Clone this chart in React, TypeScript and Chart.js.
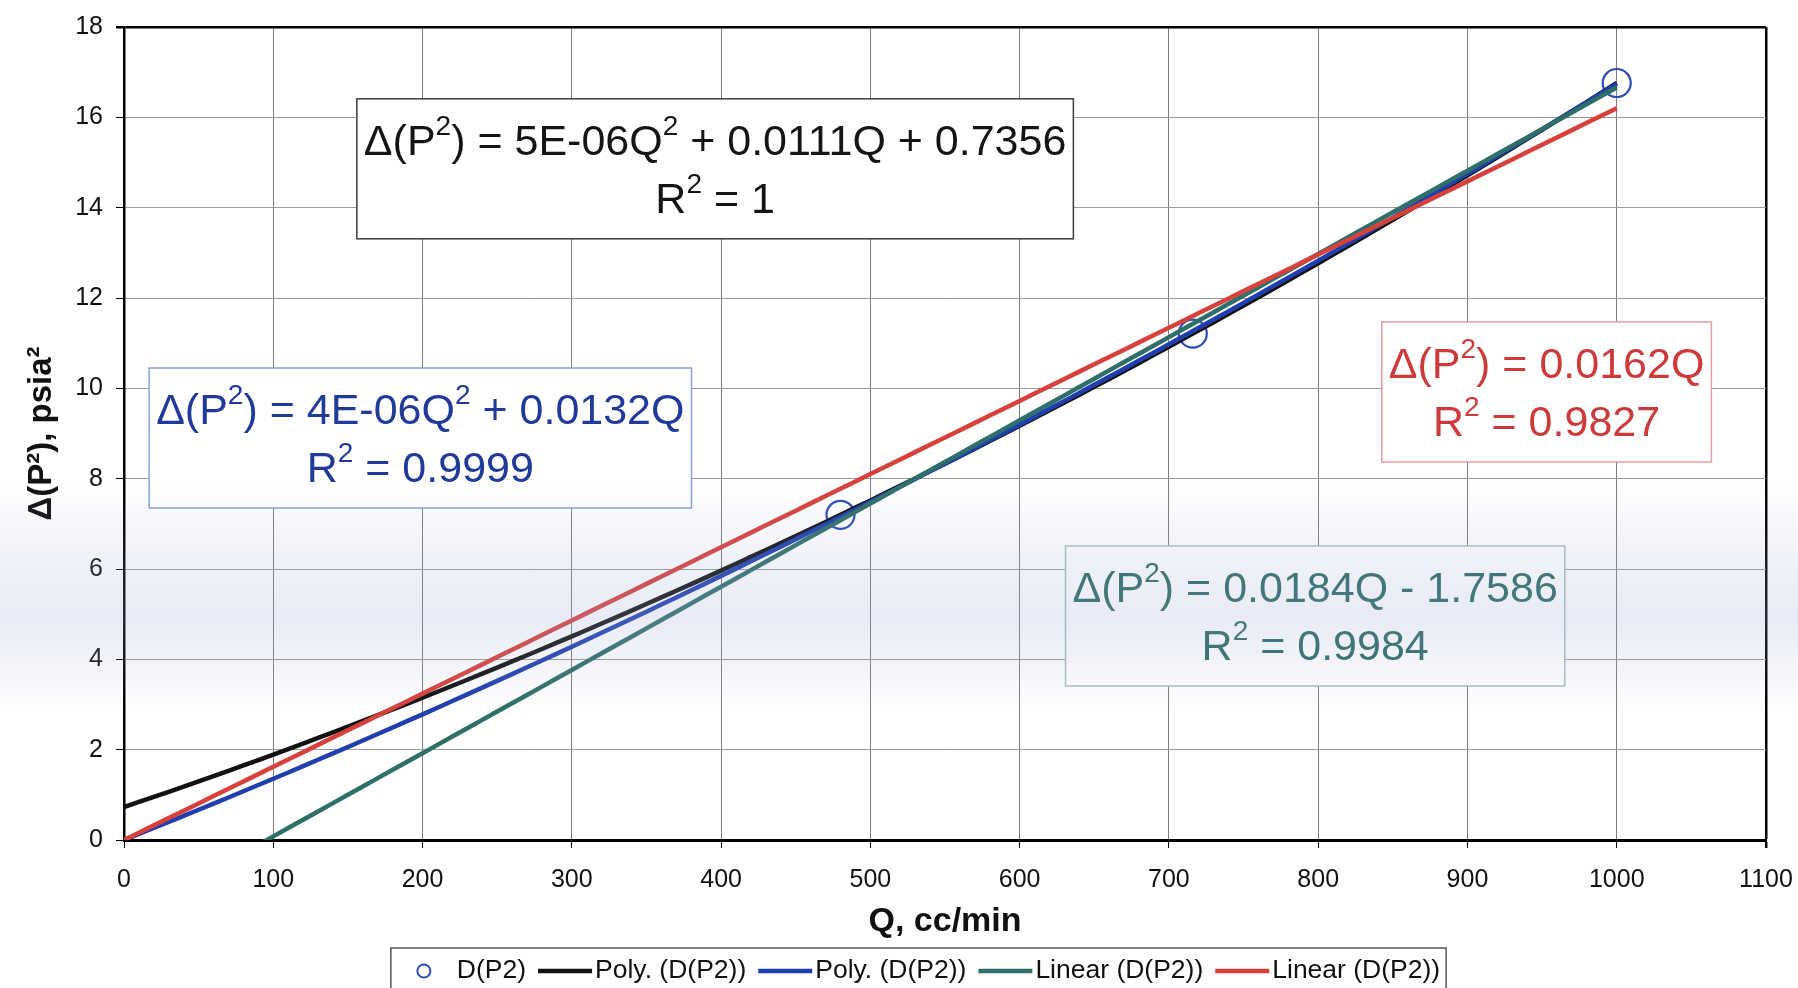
import { useEffect, useRef } from "react";
import { Chart, registerables } from "chart.js";

Chart.register(...registerables);

// Measured points: flow rate Q (cc/min) against Δ(P²) (psia²)
const flowRates = [480, 716, 1000];
const deltaPSquared = [7.2, 11.21, 16.76];
const seriesName = "D(P2)";

// Trendlines fitted to the measured points (powers of Q used in each fit)
const trendLabels = ["Poly. (D(P2))", "Poly. (D(P2))", "Linear (D(P2))", "Linear (D(P2))"];
const trendPowers = [[0, 1, 2], [1, 2], [0, 1], [1]];
const trendEquations = [
  "Δ(P^2) = 5E-06Q^2 + 0.0111Q + 0.7356",
  "Δ(P^2) = 4E-06Q^2 + 0.0132Q",
  "Δ(P^2) = 0.0184Q - 1.7586",
  "Δ(P^2) = 0.0162Q",
];
const trendRSquared = ["R^2 = 1", "R^2 = 0.9999", "R^2 = 0.9984", "R^2 = 0.9827"];

// Axis ranges and tick steps
const xAxisMax = 1100;
const xTickStep = 100;
const yAxisMax = 18;
const yTickStep = 2;

// Styling
const FONT = '"Liberation Sans", Arial, Helvetica, sans-serif';
const pointColor = "#2b4cb6";
const trendColors = ["#121212", "#1f3fae", "#2f6f69", "#d6413b"];
const trendTextColors = ["#151515", "#1f3a98", "#2c6a64", "#cc3a3a"];
const trendBoxBorders = ["#3c3c3c", "#87a2d6", "#a6bfbb", "#e4a0a0"];
// Equation box centres, in axis units
const boxCenterQ = [396, 198.5, 798, 953];
const boxCenterDP = [14.86, 8.9, 4.96, 9.92];

function fitTrend(xs: number[], ys: number[], powers: number[]) {
  const qs = xs.map((x) => x / 1000);
  const n = powers.length;
  const m = powers.map((p) => powers.map((r) => qs.reduce((s, q) => s + q ** (p + r), 0)));
  const v = powers.map((p) => qs.reduce((s, q, i) => s + ys[i] * q ** p, 0));
  for (let c = 0; c < n; c++) {
    let piv = c;
    for (let r = c + 1; r < n; r++) if (Math.abs(m[r][c]) > Math.abs(m[piv][c])) piv = r;
    [m[c], m[piv]] = [m[piv], m[c]];
    [v[c], v[piv]] = [v[piv], v[c]];
    for (let r = 0; r < n; r++) {
      if (r === c) continue;
      const f = m[r][c] / m[c][c];
      for (let k = c; k < n; k++) m[r][k] -= f * m[c][k];
      v[r] -= f * v[c];
    }
  }
  const coef = v.map((val, i) => val / m[i][i]);
  return (x: number) => coef.reduce((s, a, i) => s + a * (x / 1000) ** powers[i], 0);
}

function trendPoints(powers: number[]) {
  const f = fitTrend(flowRates, deltaPSquared, powers);
  const end = Math.max(...flowRates);
  const pts: { x: number; y: number }[] = [];
  for (let q = 0; q <= end; q += 10) pts.push({ x: q, y: f(q) });
  return pts;
}

// Text with "^2" marks drawn as superscripts, centred at (cx, cy)
function richParts(text: string) {
  return text.split(/\^(\d)/).map((t, i) => ({ t, sup: i % 2 === 1 }));
}
function richWidth(ctx: CanvasRenderingContext2D, text: string, size: number) {
  let w = 0;
  for (const p of richParts(text)) {
    ctx.font = `${p.sup ? Math.round(size * 0.64) : size}px ${FONT}`;
    w += ctx.measureText(p.t).width;
  }
  return w;
}
function drawRich(ctx: CanvasRenderingContext2D, text: string, cx: number, cy: number, size: number, color: string) {
  let x = cx - richWidth(ctx, text, size) / 2;
  ctx.fillStyle = color;
  ctx.textBaseline = "middle";
  ctx.textAlign = "left";
  for (const p of richParts(text)) {
    ctx.font = `${p.sup ? Math.round(size * 0.64) : size}px ${FONT}`;
    ctx.fillText(p.t, x, p.sup ? cy - size * 0.36 : cy);
    x += ctx.measureText(p.t).width;
  }
}

const equationBoxes = {
  id: "equationBoxes",
  afterDatasetsDraw(chart: any) {
    const { ctx, scales } = chart;
    const size = 43;
    ctx.save();
    trendEquations.forEach((eq, i) => {
      const cx = scales.x.getPixelForValue(boxCenterQ[i]);
      const cy = scales.y.getPixelForValue(boxCenterDP[i]);
      const w = Math.max(richWidth(ctx, eq, size), richWidth(ctx, trendRSquared[i], size)) + 14;
      const h = 140;
      ctx.fillStyle = "#ffffff";
      ctx.fillRect(cx - w / 2, cy - h / 2, w, h);
      ctx.strokeStyle = trendBoxBorders[i];
      ctx.lineWidth = 1.5;
      ctx.strokeRect(cx - w / 2, cy - h / 2, w, h);
      drawRich(ctx, eq, cx, cy - 26, size, trendTextColors[i]);
      drawRich(ctx, trendRSquared[i], cx, cy + 32, size, trendTextColors[i]);
    });
    ctx.restore();
  },
};

const seriesKey = {
  id: "seriesKey",
  afterDraw(chart: any) {
    const { ctx } = chart;
    const ds = chart.data.datasets;
    ctx.save();
    ctx.font = `26.5px ${FONT}`;
    const textW = ds.map((d: any) => ctx.measureText(d.label).width);
    const lead = 66;
    const lineLen = 54;
    const lineGap = 3;
    const gap = 12;
    let total = lead + textW[0];
    for (let i = 1; i < ds.length; i++) total += gap + lineLen + lineGap + textW[i];
    total += 6;
    const left = chart.width / 2 + 19.5 - total / 2;
    const top = 948;
    const cy = 971;
    ctx.fillStyle = "#ffffff";
    ctx.fillRect(left, top, total, 60);
    ctx.strokeStyle = "#555555";
    ctx.lineWidth = 1.5;
    ctx.strokeRect(left, top, total, 60);
    // scatter marker
    ctx.beginPath();
    ctx.arc(left + 33, cy, 6.5, 0, Math.PI * 2);
    ctx.strokeStyle = ds[0].pointBorderColor;
    ctx.lineWidth = 2;
    ctx.stroke();
    ctx.fillStyle = "#111111";
    ctx.textBaseline = "middle";
    ctx.textAlign = "left";
    ctx.fillText(ds[0].label, left + lead, cy);
    let x = left + lead + textW[0];
    for (let i = 1; i < ds.length; i++) {
      x += gap;
      ctx.beginPath();
      ctx.moveTo(x, cy);
      ctx.lineTo(x + lineLen, cy);
      ctx.strokeStyle = ds[i].borderColor;
      ctx.lineWidth = 4.5;
      ctx.stroke();
      x += lineLen + lineGap;
      ctx.fillStyle = "#111111";
      ctx.fillText(ds[i].label, x, cy);
      x += textW[i];
    }
    ctx.restore();
  },
};

// faint bluish band across the sheet
const scanBand = {
  id: "scanBand",
  afterDraw(chart: any) {
    const { ctx } = chart;
    ctx.save();
    const g = ctx.createLinearGradient(0, 480, 0, 710);
    g.addColorStop(0, "rgba(160,172,215,0)");
    g.addColorStop(0.35, "rgba(160,172,215,0.16)");
    g.addColorStop(0.6, "rgba(160,172,215,0.24)");
    g.addColorStop(0.85, "rgba(160,172,215,0.1)");
    g.addColorStop(1, "rgba(160,172,215,0)");
    ctx.fillStyle = g;
    ctx.fillRect(0, 480, chart.width, 230);
    ctx.restore();
  },
};

export default function App() {
  const ref = useRef<HTMLCanvasElement>(null);
  useEffect(() => {
    Chart.defaults.font.family = FONT;
    Chart.defaults.color = "#111111";
    const datasets: any[] = [
      {
        label: seriesName,
        data: flowRates.map((x, i) => ({ x, y: deltaPSquared[i] })),
        showLine: false,
        pointStyle: "circle",
        pointRadius: 14,
        pointHoverRadius: 14,
        pointBorderWidth: 2.2,
        pointBorderColor: pointColor,
        pointBackgroundColor: "rgba(0,0,0,0)",
        order: 5,
      },
      ...trendLabels.map((label, i) => ({
        label,
        data: trendPoints(trendPowers[i]),
        showLine: true,
        borderColor: trendColors[i],
        backgroundColor: trendColors[i],
        borderWidth: 4.5,
        pointRadius: 0,
        pointHoverRadius: 0,
        tension: 0,
        order: 4 - i,
      })),
    ];
    const chart = new Chart(ref.current!, {
      type: "scatter",
      data: { datasets },
      options: {
        responsive: false,
        animation: false,
        devicePixelRatio: 1,
        layout: { padding: { top: 27, right: 32, bottom: 0, left: 0 } },
        plugins: { legend: { display: false }, tooltip: { enabled: false } },
        scales: {
          x: {
            type: "linear",
            min: 0,
            max: xAxisMax,
            ticks: {
              stepSize: xTickStep,
              font: { size: 25 },
              color: "#111",
              padding: 17,
              callback: (v: any) => String(v),
            },
            grid: {
              color: (c: any) => (c.tick && c.tick.value === xAxisMax ? "#000" : "#7d7d7d"),
              lineWidth: (c: any) => (c.tick && c.tick.value === xAxisMax ? 2.5 : 1),
              tickColor: "#000",
              tickLength: 8,
            },
            border: { color: "#000", width: 3 },
            title: {
              display: true,
              text: "Q, cc/min",
              font: { size: 34, weight: "bold" },
              color: "#111",
              padding: { top: 0, bottom: 46 },
            },
            afterFit: (s: any) => {
              s.height = 148;
              s.paddingLeft = 0;
              s.paddingRight = 0;
            },
          },
          y: {
            type: "linear",
            min: 0,
            max: yAxisMax,
            ticks: { stepSize: yTickStep, font: { size: 25 }, color: "#111", padding: 13 },
            grid: {
              color: (c: any) => (c.tick && c.tick.value === yAxisMax ? "#000" : "#9a9a9a"),
              lineWidth: (c: any) => (c.tick && c.tick.value === yAxisMax ? 2.5 : 1),
              tickColor: "#000",
              tickLength: 8,
            },
            border: { color: "#000", width: 2.5 },
            title: {
              display: true,
              text: "Δ(P²), psia²",
              font: { size: 33, weight: "bold" },
              color: "#111",
              padding: { top: 22, bottom: 0 },
            },
            afterFit: (s: any) => {
              s.width = 124;
              s.paddingTop = 0;
              s.paddingBottom = 0;
            },
          },
        },
      },
      plugins: [equationBoxes, seriesKey, scanBand],
    } as any);
    return () => chart.destroy();
  }, []);
  return (
    <div style={{ position: "absolute", left: 0, top: 0, width: 1798, height: 988, background: "#fff" }}>
      <canvas ref={ref} width={1798} height={988} style={{ display: "block" }} />
    </div>
  );
}
